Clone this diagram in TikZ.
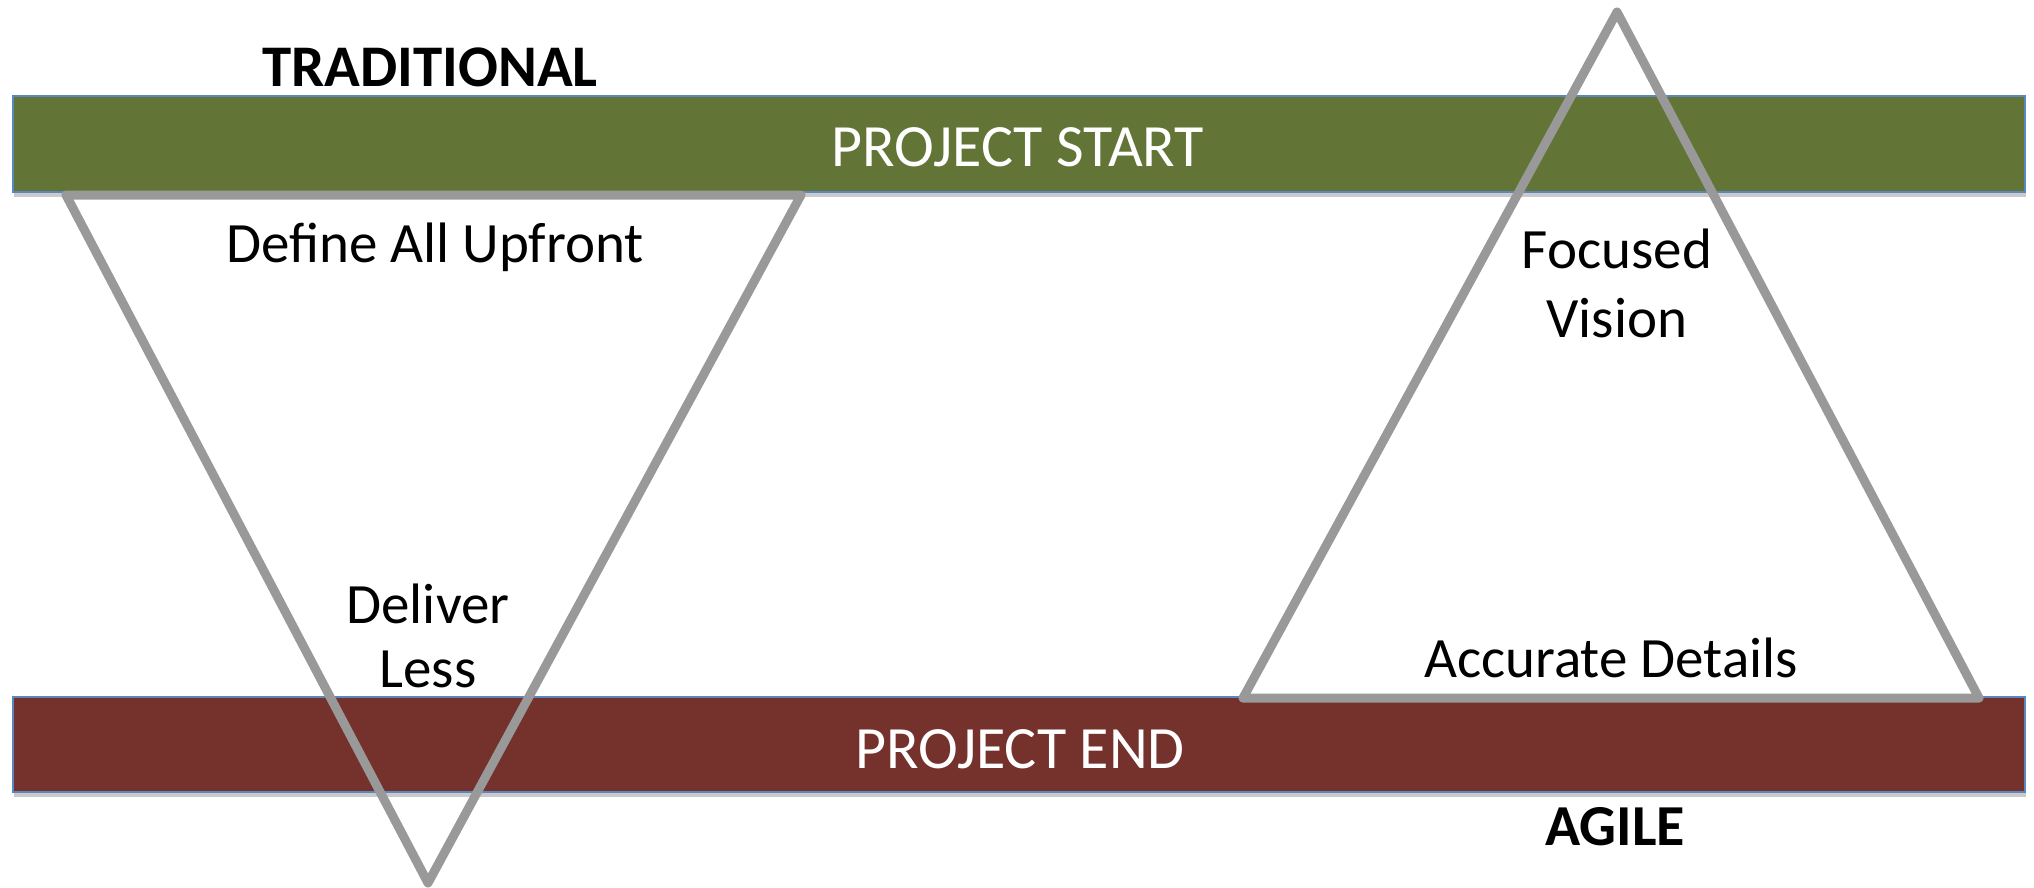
\documentclass[tikz,border=0pt]{standalone}
\usepackage{fontspec}
\setmainfont{Carlito}
\usetikzlibrary{shadows}
\definecolor{startgreen}{HTML}{627436}
\definecolor{endred}{HTML}{75312B}
\definecolor{barborder}{HTML}{5B87C0}
\definecolor{trigray}{HTML}{999999}
\tikzset{
  bar/.style={draw=barborder, line width=1.5pt, drop shadow={shadow xshift=1pt, shadow yshift=-5pt, opacity=0.35, fill=black!60}},
  tri/.style={draw=trigray, line width=9pt, line join=round},
  bartext/.style={text=white, font=\fontsize{60}{72}\selectfont, anchor=base, inner sep=0pt},
  lbl/.style={text=black, font=\fontsize{57}{64}\selectfont, anchor=base, inner sep=0pt},
  head/.style={text=black, font=\bfseries\fontsize{59}{72}\selectfont, anchor=base, inner sep=0pt}
}
\begin{document}
\begin{tikzpicture}[x=1pt,y=-1pt]
\useasboundingbox (0,0) rectangle (2034,888);
% bars
\path[bar, fill=startgreen] (13,96) rectangle (2025,192);
\path[bar, fill=endred] (13,697) rectangle (2025,792);
\node[bartext] (start) at (1018,167) {PROJECT START};
\node[bartext] (end) at (1020,768) {PROJECT END};
% triangles
\coordinate (lt1) at (66,195);
\coordinate (lt2) at (801,195);
\coordinate (lt3) at (428,883);
\coordinate (rt1) at (1617,12);
\coordinate (rt2) at (1243,698);
\coordinate (rt3) at (1979,698);
\draw[tri] (lt1) -- (lt2) -- (lt3) -- cycle;
\draw[tri] (rt1) -- (rt2) -- (rt3) -- cycle;
% labels
\node[head] (trad) at (430,87) {TRADITIONAL};
\node[head, font=\bfseries\fontsize{58}{70}\selectfont] (agile) at (1615,845) {AGILE};
\node[lbl] (define) at (435,262) {Define All Upfront};
\node[lbl] (deliver) at (428,623) {Deliver};
\node[lbl] (less) at (428,687) {Less};
\node[lbl] (focused) at (1617,268) {Focused};
\node[lbl] (vision) at (1617,337) {Vision};
\node[lbl] (accurate) at (1611,677) {Accurate Details};
\end{tikzpicture}
\end{document}
